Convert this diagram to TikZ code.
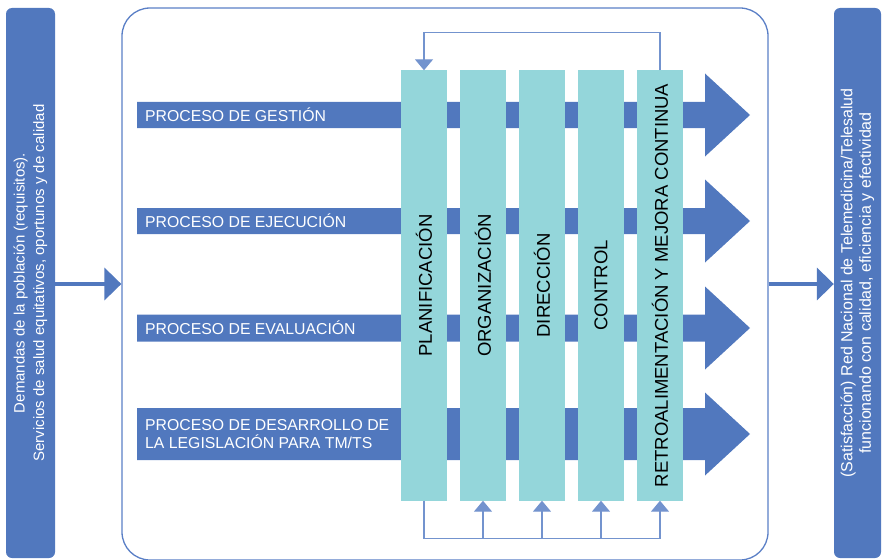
\documentclass[tikz,border=0pt]{standalone}
\usepackage{fontspec}
\setmainfont{Liberation Sans}
\usetikzlibrary{arrows.meta, positioning}

\definecolor{azul}{HTML}{5178BE}
\definecolor{turquesa}{HTML}{94D6DA}
\definecolor{borde}{HTML}{5A7FC6}
\definecolor{linea}{HTML}{7393CE}

\begin{document}
\begin{tikzpicture}[
    x=1pt, y=-1pt, % pixel grid of the figure
    >={Triangle[width=18pt, length=11pt]}, % Default arrow tip
    ladobox/.style={fill=azul, rounded corners=6pt, rotate=90, minimum width=550pt, inner sep=0pt, text=white, align=center, font=\fontsize{15}{19.5}\selectfont}, % Side boxes
    marco/.style={draw=borde, line width=1.3pt, rounded corners=28pt, minimum width=646pt, minimum height=552pt}, % Main frame
    columna/.style={fill=turquesa, rotate=90, minimum width=430pt, minimum height=46pt, inner sep=0pt, font=\fontsize{18.5}{20}\selectfont}, % Management functions
    proceso/.style={anchor=west, text=white, align=left, inner sep=0pt, font=\fontsize{15.8}{18}\selectfont}, % Process labels
    banda/.style={fill=azul}, % Process arrows
    flujo/.style={-{Triangle[width=32pt, length=17pt]}, azul, line width=4pt}, % In/out arrows
    retro/.style={->, linea, line width=1.4pt} % Feedback lines
]
    \useasboundingbox (0,0) rectangle (882,559);

    % --- Main frame ---
    \node[marco] (marco) at (445,284) {};

    % --- Process arrows ---
    \foreach \yc/\hb in {115/13, 221/13, 328/13.5, 434/26}
        \fill[banda] (137,\yc-\hb) -- (705,\yc-\hb) -- (705,\yc-41.5) -- (750,\yc)
            -- (705,\yc+41.5) -- (705,\yc+\hb) -- (137,\yc+\hb) -- cycle;

    \node[proceso] (gestion) at (145,115) {PROCESO DE GESTIÓN};
    \node[proceso] (ejecucion) at (145,221) {PROCESO DE EJECUCIÓN};
    \node[proceso] (evaluacion) at (145,328) {PROCESO DE EVALUACIÓN};
    \node[proceso] (desarrollo) at (145,434) {PROCESO DE DESARROLLO DE\\LA LEGISLACIÓN PARA TM/TS};

    % --- Columns ---
    \node[columna] (planif) at (424,285.5) {PLANIFICACIÓN};
    \node[columna] (organiz) at (483,285.5) {ORGANIZACIÓN};
    \node[columna] (direcc) at (542,285.5) {DIRECCIÓN};
    \node[columna] (control) at (601,285.5) {CONTROL};
    \node[columna] (retroal) at (660,285.5) {RETROALIMENTACIÓN Y MEJORA CONTINUA};

    % --- Feedback loops ---
    \draw[retro] (retroal.east) -- ++(0,-38) -| (planif.east);
    \draw[retro] (planif.west) -- ++(0,38) coordinate (base) -| (retroal.west);
    \foreach \c in {organiz, direcc, control}
        \draw[retro] (base -| \c.west) -- (\c.west);

    % --- Input and output ---
    \node[ladobox, minimum height=49pt] (demanda) at (30.5,283) {Demandas de la población (requisitos).\\Servicios de salud equitativos, oportunos y de calidad};
    \node[ladobox, minimum height=47pt, font=\fontsize{16}{18.5}\selectfont] (satisf) at (857.5,283) {(Satisfacción) Red Nacional de Telemedicina/Telesalud\\funcionando con calidad, eficiencia y efectividad};

    \draw[flujo] (demanda.south |- marco.west) -- (marco.west);
    \draw[flujo] (marco.east) -- (marco.east -| satisf.north);

\end{tikzpicture}
\end{document}
